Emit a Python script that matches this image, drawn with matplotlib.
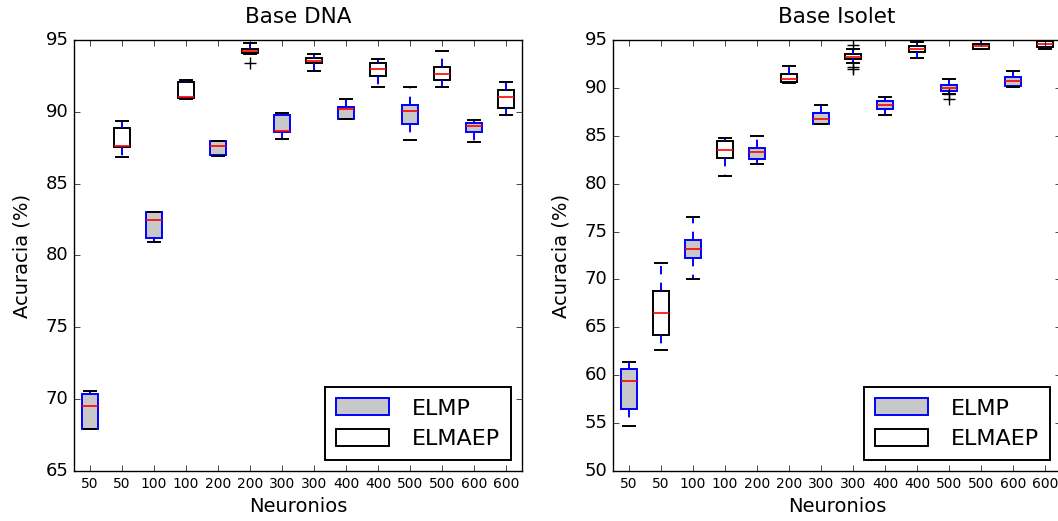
import matplotlib
matplotlib.use('Agg')
import matplotlib.pyplot as plt
from matplotlib.patches import Patch

plt.style.use('classic')

labels = ['50', '50', '100', '100', '200', '200', '300', '300',
          '400', '400', '500', '500', '600', '600']
methods = ['ELMP', 'ELMAEP']

# DNA: (whislo, q1, med, q3, whishi, fliers)
dna_stats = [
    (67.9, 67.9, 69.5, 70.35, 70.6, []),
    (86.85, 87.55, 87.6, 88.9, 89.35, []),
    (80.95, 81.25, 82.45, 83.0, 83.0, []),
    (90.9, 90.95, 91.05, 92.1, 92.2, []),
    (86.95, 87.0, 87.6, 87.95, 87.95, []),
    (94.0, 94.12, 94.25, 94.37, 94.8, [93.38]),
    (88.1, 88.6, 88.7, 89.75, 89.95, []),
    (92.85, 93.38, 93.56, 93.78, 94.05, []),
    (89.5, 89.5, 90.2, 90.35, 90.9, []),
    (91.75, 92.5, 93.0, 93.4, 93.7, []),
    (88.05, 89.15, 90.05, 90.45, 91.7, []),
    (91.75, 92.25, 92.6, 93.1, 94.2, []),
    (87.9, 88.6, 89.0, 89.25, 89.45, []),
    (89.75, 90.3, 91.0, 91.5, 92.1, []),
]

isolet_stats = [
    (54.75, 56.5, 59.4, 60.7, 61.35, []),
    (62.6, 64.25, 66.5, 68.75, 71.75, []),
    (70.0, 72.2, 73.2, 74.1, 76.5, []),
    (80.8, 82.65, 83.5, 84.45, 84.8, []),
    (82.1, 82.55, 83.35, 83.7, 85.0, []),
    (90.55, 90.6, 90.9, 91.5, 92.3, []),
    (86.2, 86.2, 86.8, 87.4, 88.2, []),
    (92.55, 92.98, 93.25, 93.5, 94.1, [94.5, 92.2, 91.95]),
    (87.15, 87.8, 88.2, 88.65, 89.0, []),
    (93.15, 93.78, 94.05, 94.4, 94.8, []),
    (89.4, 89.7, 90.0, 90.3, 90.9, [89.35, 88.85]),
    (94.05, 94.05, 94.4, 94.55, 94.95, []),
    (90.1, 90.15, 90.7, 91.15, 91.75, []),
    (94.1, 94.3, 94.55, 94.9, 94.95, []),
]


def to_dicts(stats):
    out = []
    for lo, q1, med, q3, hi, fl in stats:
        out.append({'whislo': lo, 'q1': q1, 'med': med, 'q3': q3,
                    'whishi': hi, 'fliers': fl})
    return out


def draw(ax, stats, title, ylim):
    bp = ax.bxp(to_dicts(stats), positions=range(1, len(stats) + 1),
                patch_artist=True, widths=0.5, capwidths=0.4,
                boxprops=dict(linewidth=1.4),
                whiskerprops=dict(color='b', linestyle='--', linewidth=1.4),
                capprops=dict(color='k', linewidth=1.4),
                medianprops=dict(color='r', linewidth=1.2),
                flierprops=dict(marker='+', markeredgecolor='k', markersize=9))
    for i, box in enumerate(bp['boxes']):
        if i % 2 == 0:
            box.set_facecolor('#c8c8c8')
            box.set_edgecolor('b')
        else:
            box.set_facecolor('white')
            box.set_edgecolor('k')
    ax.set_xlim(0.5, len(stats) + 0.5)
    ax.set_ylim(*ylim)
    ax.set_xticks(range(1, len(stats) + 1))
    ax.set_xticklabels(labels, fontsize=10)
    ax.tick_params(axis='y', labelsize=13)
    ax.set_title(title, fontsize=15.5, pad=12)
    ax.set_xlabel('Neuronios', fontsize=14)
    ax.set_ylabel('Acuracia (%)', fontsize=14, labelpad=10)
    handles = [Patch(facecolor='#c8c8c8', edgecolor='b', linewidth=1.4, label=methods[0]),
               Patch(facecolor='white', edgecolor='k', linewidth=1.4, label=methods[1])]
    leg = ax.legend(handles=handles, loc='lower right', fontsize=16,
                    handlelength=2.4, handleheight=0.8, borderpad=0.5,
                    labelspacing=0.45, handletextpad=1.0)
    leg.get_frame().set_linewidth(1.4)


fig = plt.figure(figsize=(10.58, 5.21), dpi=100, facecolor='white')
ax1 = fig.add_axes([74 / 1058, 50 / 521, 448 / 1058, 431 / 521])
ax2 = fig.add_axes([613 / 1058, 50 / 521, 448 / 1058, 431 / 521])

draw(ax1, dna_stats, 'Base DNA', (65, 95))
draw(ax2, isolet_stats, 'Base Isolet', (50, 95))
ax1.set_yticks(range(65, 96, 5))
ax2.set_yticks(range(50, 96, 5))

fig.savefig('out.png', dpi=100, facecolor='white')
